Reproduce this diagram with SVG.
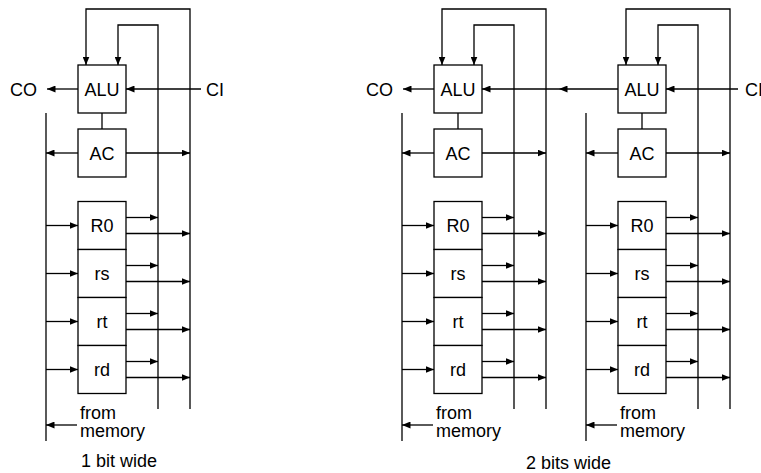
<svg xmlns="http://www.w3.org/2000/svg" width="761" height="473" viewBox="0 0 761 473">
<defs>
<marker id="ah" markerUnits="userSpaceOnUse" markerWidth="9" markerHeight="7" refX="8.5" refY="3.5" orient="auto">
<path d="M0,0 L8.5,3.5 L0,7 z" fill="#000"/>
</marker>
<style>
.box{fill:#fff;stroke:#000;stroke-width:1.3}
.ln{fill:none;stroke:#000;stroke-width:1.3}
.ar{fill:none;stroke:#000;stroke-width:1.3;marker-end:url(#ah)}
text{font-family:"Liberation Sans",Arial,Helvetica,sans-serif;font-size:18px;fill:#000}
.c{text-anchor:middle}
</style>
</defs>
<rect width="761" height="473" fill="#fff"/>

<!-- connectors -->
<g id="connectors">
  <!-- slice 1 (left, 1 bit) -->
  <g id="conn-s1">
    <line class="ln" x1="102" y1="113" x2="102" y2="129"/>
    <line class="ln" x1="46" y1="113" x2="46" y2="441"/>
    <path class="ar" d="M158,409 V25 H118 V65"/>
    <path class="ar" d="M190,409 V9 H86 V65"/>
    <line class="ar" x1="78" y1="153" x2="46" y2="153"/>
    <line class="ar" x1="126" y1="153" x2="190" y2="153"/>
    <line class="ar" x1="46" y1="225.5" x2="78" y2="225.5"/>
    <line class="ar" x1="46" y1="273.5" x2="78" y2="273.5"/>
    <line class="ar" x1="46" y1="321.5" x2="78" y2="321.5"/>
    <line class="ar" x1="46" y1="369.5" x2="78" y2="369.5"/>
    <line class="ar" x1="126" y1="217.5" x2="158" y2="217.5"/>
    <line class="ar" x1="126" y1="233.5" x2="190" y2="233.5"/>
    <line class="ar" x1="126" y1="265.5" x2="158" y2="265.5"/>
    <line class="ar" x1="126" y1="281.5" x2="190" y2="281.5"/>
    <line class="ar" x1="126" y1="313.5" x2="158" y2="313.5"/>
    <line class="ar" x1="126" y1="329.5" x2="190" y2="329.5"/>
    <line class="ar" x1="126" y1="361.5" x2="158" y2="361.5"/>
    <line class="ar" x1="126" y1="377.5" x2="190" y2="377.5"/>
    <line class="ar" x1="77" y1="425" x2="46" y2="425"/>
    <line class="ar" x1="78" y1="89" x2="47" y2="89"/>
    <line class="ar" x1="201" y1="89" x2="126" y2="89"/>
  </g>
  <!-- slice 2 -->
  <g id="conn-s2" transform="translate(356,0)">
    <line class="ln" x1="102" y1="113" x2="102" y2="129"/>
    <line class="ln" x1="46" y1="113" x2="46" y2="441"/>
    <path class="ar" d="M158,409 V25 H118 V65"/>
    <path class="ar" d="M190,409 V9 H86 V65"/>
    <line class="ar" x1="78" y1="153" x2="46" y2="153"/>
    <line class="ar" x1="126" y1="153" x2="190" y2="153"/>
    <line class="ar" x1="46" y1="225.5" x2="78" y2="225.5"/>
    <line class="ar" x1="46" y1="273.5" x2="78" y2="273.5"/>
    <line class="ar" x1="46" y1="321.5" x2="78" y2="321.5"/>
    <line class="ar" x1="46" y1="369.5" x2="78" y2="369.5"/>
    <line class="ar" x1="126" y1="217.5" x2="158" y2="217.5"/>
    <line class="ar" x1="126" y1="233.5" x2="190" y2="233.5"/>
    <line class="ar" x1="126" y1="265.5" x2="158" y2="265.5"/>
    <line class="ar" x1="126" y1="281.5" x2="190" y2="281.5"/>
    <line class="ar" x1="126" y1="313.5" x2="158" y2="313.5"/>
    <line class="ar" x1="126" y1="329.5" x2="190" y2="329.5"/>
    <line class="ar" x1="126" y1="361.5" x2="158" y2="361.5"/>
    <line class="ar" x1="126" y1="377.5" x2="190" y2="377.5"/>
    <line class="ar" x1="77" y1="425" x2="46" y2="425"/>
    <line class="ar" x1="78" y1="89" x2="47" y2="89"/>
  </g>
  <!-- slice 3 -->
  <g id="conn-s3" transform="translate(540,0)">
    <line class="ln" x1="102" y1="113" x2="102" y2="129"/>
    <line class="ln" x1="46" y1="113" x2="46" y2="441"/>
    <path class="ar" d="M158,409 V25 H118 V65"/>
    <path class="ar" d="M190,409 V9 H86 V65"/>
    <line class="ar" x1="78" y1="153" x2="46" y2="153"/>
    <line class="ar" x1="126" y1="153" x2="190" y2="153"/>
    <line class="ar" x1="46" y1="225.5" x2="78" y2="225.5"/>
    <line class="ar" x1="46" y1="273.5" x2="78" y2="273.5"/>
    <line class="ar" x1="46" y1="321.5" x2="78" y2="321.5"/>
    <line class="ar" x1="46" y1="369.5" x2="78" y2="369.5"/>
    <line class="ar" x1="126" y1="217.5" x2="158" y2="217.5"/>
    <line class="ar" x1="126" y1="233.5" x2="190" y2="233.5"/>
    <line class="ar" x1="126" y1="265.5" x2="158" y2="265.5"/>
    <line class="ar" x1="126" y1="281.5" x2="190" y2="281.5"/>
    <line class="ar" x1="126" y1="313.5" x2="158" y2="313.5"/>
    <line class="ar" x1="126" y1="329.5" x2="190" y2="329.5"/>
    <line class="ar" x1="126" y1="361.5" x2="158" y2="361.5"/>
    <line class="ar" x1="126" y1="377.5" x2="190" y2="377.5"/>
    <line class="ar" x1="77" y1="425" x2="46" y2="425"/>
    <line class="ar" x1="198" y1="89" x2="126" y2="89"/>
  </g>
  <!-- carry between slices 3 and 2 -->
  <line class="ar" x1="618" y1="89" x2="559" y2="89"/>
  <line class="ar" x1="559" y1="89" x2="482" y2="89"/>
</g>

<!-- slice 1 nodes -->
<g id="slice1">
  <g id="s1-alu"><rect class="box" x="78" y="65" width="48" height="48"/><text class="c" x="102" y="95.5">ALU</text></g>
  <g id="s1-ac"><rect class="box" x="78" y="129" width="48" height="48"/><text class="c" x="102" y="159.5">AC</text></g>
  <g id="s1-r0"><rect class="box" x="78" y="201.5" width="48" height="48"/><text class="c" x="102" y="232">R0</text></g>
  <g id="s1-rs"><rect class="box" x="78" y="249.5" width="48" height="48"/><text class="c" x="102" y="280">rs</text></g>
  <g id="s1-rt"><rect class="box" x="78" y="297.5" width="48" height="48"/><text class="c" x="102" y="328">rt</text></g>
  <g id="s1-rd"><rect class="box" x="78" y="345.5" width="48" height="48"/><text class="c" x="102" y="376">rd</text></g>
  <g id="s1-mem"><text x="80" y="419">from</text><text x="80" y="437">memory</text></g>
  <g id="s1-co"><text x="10" y="96">CO</text></g>
  <g id="s1-ci"><text x="206" y="96">CI</text></g>
</g>

<!-- slice 2 nodes -->
<g id="slice2" transform="translate(356,0)">
  <g id="s2-alu"><rect class="box" x="78" y="65" width="48" height="48"/><text class="c" x="102" y="95.5">ALU</text></g>
  <g id="s2-ac"><rect class="box" x="78" y="129" width="48" height="48"/><text class="c" x="102" y="159.5">AC</text></g>
  <g id="s2-r0"><rect class="box" x="78" y="201.5" width="48" height="48"/><text class="c" x="102" y="232">R0</text></g>
  <g id="s2-rs"><rect class="box" x="78" y="249.5" width="48" height="48"/><text class="c" x="102" y="280">rs</text></g>
  <g id="s2-rt"><rect class="box" x="78" y="297.5" width="48" height="48"/><text class="c" x="102" y="328">rt</text></g>
  <g id="s2-rd"><rect class="box" x="78" y="345.5" width="48" height="48"/><text class="c" x="102" y="376">rd</text></g>
  <g id="s2-mem"><text x="80" y="419">from</text><text x="80" y="437">memory</text></g>
  <g id="s2-co"><text x="10" y="96">CO</text></g>
</g>

<!-- slice 3 nodes -->
<g id="slice3" transform="translate(540,0)">
  <g id="s3-alu"><rect class="box" x="78" y="65" width="48" height="48"/><text class="c" x="102" y="95.5">ALU</text></g>
  <g id="s3-ac"><rect class="box" x="78" y="129" width="48" height="48"/><text class="c" x="102" y="159.5">AC</text></g>
  <g id="s3-r0"><rect class="box" x="78" y="201.5" width="48" height="48"/><text class="c" x="102" y="232">R0</text></g>
  <g id="s3-rs"><rect class="box" x="78" y="249.5" width="48" height="48"/><text class="c" x="102" y="280">rs</text></g>
  <g id="s3-rt"><rect class="box" x="78" y="297.5" width="48" height="48"/><text class="c" x="102" y="328">rt</text></g>
  <g id="s3-rd"><rect class="box" x="78" y="345.5" width="48" height="48"/><text class="c" x="102" y="376">rd</text></g>
  <g id="s3-mem"><text x="80" y="419">from</text><text x="80" y="437">memory</text></g>
  <g id="s3-ci"><text x="205" y="96">CI</text></g>
</g>

<text id="cap1" x="81" y="467">1 bit wide</text>
<text id="cap2" x="526" y="469">2 bits wide</text>
</svg>
